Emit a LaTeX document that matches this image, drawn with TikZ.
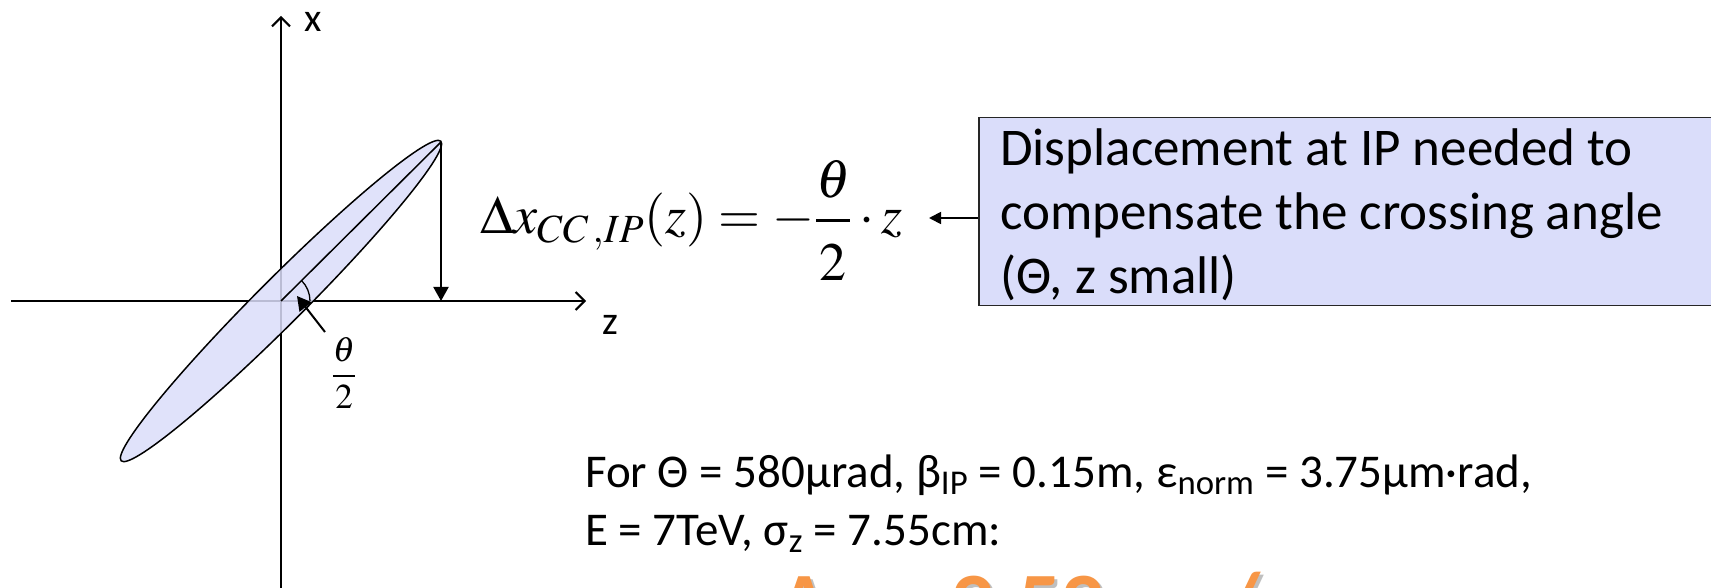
\documentclass[tikz,border=0pt]{standalone}
\usepackage{amsmath}
\usepackage{mathptmx}
\usepackage[no-math]{fontspec}
\setmainfont{Carlito}
\usetikzlibrary{arrows.meta}
\definecolor{beamfill}{RGB}{219,222,250}
\definecolor{boxfill}{RGB}{218,221,250}
\definecolor{orng}{RGB}{247,150,70}
\tikzset{
  axisline/.style={line width=2pt, -{Straight Barb[length=9pt,width=18pt,line width=2pt]}},
  outline/.style={line width=1.5pt},
  fillarrow/.style={line width=2pt, -{Triangle[length=14pt,width=15pt]}},
  sanslabel/.style={font=\fontsize{40}{48}\selectfont, inner sep=0pt},
  boxtext/.style={font=\fontsize{53}{64}\selectfont, anchor=base west, inner sep=0pt},
  infotext/.style={font=\fontsize{47}{57}\selectfont, anchor=base west, inner sep=0pt},
  resulttext/.style={font=\bfseries\fontsize{86}{100}\selectfont, anchor=base west, inner sep=0pt},
}
\begin{document}
\begin{tikzpicture}[x=1pt,y=1pt]
\useasboundingbox (0,0) rectangle (1711,587);
\clip (0,0) rectangle (1711,587);
\fill[white] (0,0) rectangle (1711,587);
% coordinates
\coordinate (O) at (281,286);
\coordinate (ytop) at (281,571);
\coordinate (ybot) at (281,-5);
\coordinate (xleft) at (11,286);
\coordinate (xright) at (586,286);
\coordinate (tip) at (441,445);
\coordinate (foot) at (441,286);
% axes
\draw[axisline] (ybot) -- (ytop);
\draw[axisline] (xleft) -- (xright);
\node[sanslabel] (xlab) at (313,565) {x};
\node[sanslabel] (zlab) at (610,262) {z};
% beam ellipse
\fill[beamfill, fill opacity=0.85, rotate around={45:(O)}] (O) ellipse [x radius=226, y radius=23];
\draw[outline, rotate around={45:(O)}] (O) ellipse [x radius=226, y radius=23];
\draw[outline] (O) -- (tip);
% displacement arrow
\draw[line width=2pt, -{Triangle[length=14pt,width=15pt]}] (tip) -- (foot);
% angle
\draw[line width=1.3pt] (310,286) arc[start angle=0, end angle=45, radius=29];
\coordinate (angfrom) at (325,255);
\coordinate (angto) at (297,291);
\draw[fillarrow] (angfrom) -- (angto);
\node[inner sep=0pt, font=\fontsize{35}{40}\selectfont] (half) at (344,214) {$\dfrac{\theta}{2}$};
% formula
\node[anchor=base west, inner sep=0pt, font=\fontsize{54}{64}\selectfont] (formula) at (480,353)
  {$\Delta x_{CC\,,IP}(z)=-\dfrac{\theta}{\rule{0pt}{52pt}2}\cdot z$};
% box
\node[draw=black!85, line width=1.5pt, fill=boxfill, anchor=north west,
      minimum width=760pt, minimum height=188pt, inner sep=0pt] (box) at (978,470) {};
\node[boxtext] (bl1) at (1000,421) {Displacement at IP needed to};
\node[boxtext] (bl2) at (1000,357) {compensate the crossing angle};
\node[boxtext] (bl3) at (1000,293) {(Θ, z small)};
\coordinate (atip) at (929,369);
\draw[line width=1.8pt, -{Triangle[length=12pt,width=12pt]}] (box.west |- atip) -- (atip);
% parameters
\node[infotext] (p1) at (585,100) {For Θ = 580µrad, β\textsubscript{IP} = 0.15m, ε\textsubscript{norm} = 3.75µm·rad,};
\node[infotext] (p2) at (585,42) {E = 7TeV, σ\textsubscript{z} = 7.55cm:};
% result (cut off at the lower edge)
\node[resulttext, text=black!45, opacity=0.55] (ressh) at (783,-48) {Δx = 2.52µm/};
\node[resulttext, text=orng] (res) at (780,-45) {Δx = 2.52µm/};
\end{tikzpicture}
\end{document}
